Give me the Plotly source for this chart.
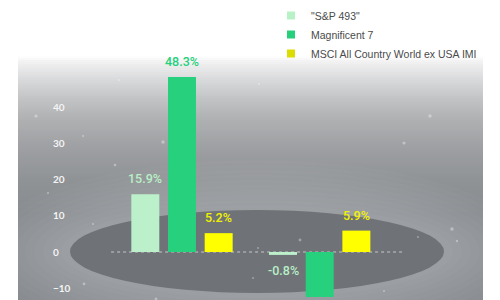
import plotly.graph_objects as go

# ---------------- data ----------------
categories = ["Period 1", "Period 2"]
series_names = ['"S&P 493"', "Magnificent 7", "MSCI All Country World ex USA IMI"]
sp493 = [15.9, -0.8]
mag7 = [48.3, -12.4]
msci = [5.2, 5.9]
y_ticks = [-10, 0, 10, 20, 30, 40]

series_values = [sp493, mag7, msci]
bar_colors = ["#bcf0ca", "#26d07c", "#ffff00"]
label_colors = ["#b8efc6", "#26d07c", "#f2f200"]
legend_colors = ["#b6f2c6", "#26cf7a", "#dcdc00"]

# ---------------- geometry ----------------
W, H = 500, 300
L, R, T, B = 48, 17, 60, 0
PW, PH = W - L - R, H - T - B
Y_RANGE = [-13.24, 52.97]
X_RANGE = [-0.9731, 2.186]
BARGAP, BARGROUPGAP = 0.201, 0.237


def px2x(px):
    return (px - L) / PW


def py2y(py):
    return (H - B - py) / PH


def hex2rgb(h):
    h = h.lstrip("#")
    return [int(h[i:i + 2], 16) for i in (0, 2, 4)]


def lerp_color(c1, c2, t):
    a, b = hex2rgb(c1), hex2rgb(c2)
    return "rgb(%d,%d,%d)" % tuple(round(a[i] + (b[i] - a[i]) * t) for i in range(3))


shapes = []
PANEL_L, PANEL_R = 18, 483

# vertical gradient of the panel
stops = [(56, "#ffffff"), (62, "#f1f1f2"), (80, "#d8d9da"), (100, "#c0c2c4"),
         (120, "#aeb0b2"), (150, "#9c9ea1"), (180, "#909396"), (215, "#878a8e"),
         (300, "#878a8e")]
for (y0, c0), (y1, c1) in zip(stops[:-1], stops[1:]):
    step = 2
    yy = y0
    while yy < y1:
        t = (yy + step / 2 - y0) / (y1 - y0)
        shapes.append(dict(type="rect", xref="paper", yref="paper",
                           x0=px2x(PANEL_L), x1=px2x(PANEL_R),
                           y0=py2y(min(yy + step, y1) + 0.5), y1=py2y(yy),
                           fillcolor=lerp_color(c0, c1, t), line_width=0, layer="below"))
        yy += step

# glow around the ellipse
EX0, EX1, EY0, EY1 = 70, 444, 210, 293
for k in range(10, 0, -1):
    dx, dy = 9 * k, 5 * k
    shapes.append(dict(type="circle", xref="paper", yref="paper",
                       x0=px2x(EX0 - dx), x1=px2x(EX1 + dx),
                       y0=py2y(EY1 + dy), y1=py2y(EY0 - dy),
                       fillcolor="rgba(255,255,255,0.022)", line_width=0, layer="below"))
# mask glow spill outside the panel
shapes.append(dict(type="rect", xref="paper", yref="paper", x0=px2x(0), x1=px2x(PANEL_L),
                   y0=py2y(300), y1=py2y(40), fillcolor="#ffffff", line_width=0, layer="below"))
shapes.append(dict(type="rect", xref="paper", yref="paper", x0=px2x(PANEL_R), x1=px2x(500),
                   y0=py2y(300), y1=py2y(40), fillcolor="#ffffff", line_width=0, layer="below"))

# dark ellipse
shapes.append(dict(type="circle", xref="paper", yref="paper",
                   x0=px2x(EX0), x1=px2x(EX1), y0=py2y(EY1), y1=py2y(EY0),
                   fillcolor="#6f7276", line_width=0, layer="below"))

# sparkle dots
dots = [(36, 116, 1.6), (83, 136, 1.0), (163, 142, 1.8), (115, 165, 1.3), (48, 193, 1.0),
        (93, 224, 1.0), (184, 224, 1.3), (84, 284, 1.4), (156, 299, 1.4), (430, 116, 1.7),
        (404, 143, 1.6), (452, 229, 1.8), (457, 241, 1.2), (418, 237, 1.0), (300, 240, 1.4),
        (258, 248, 1.0), (253, 278, 1.0), (384, 291, 1.0), (119, 80, 1.0), (259, 84, 1.0)]
for (dxp, dyp, r) in dots:
    shapes.append(dict(type="circle", xref="paper", yref="paper",
                       xsizemode="pixel", ysizemode="pixel",
                       xanchor=px2x(dxp), yanchor=py2y(dyp),
                       x0=-r, x1=r, y0=-r, y1=r,
                       fillcolor="rgba(255,255,255,0.35)", line_width=0, layer="below"))

# dotted zero line
shapes.append(dict(type="line", xref="x", yref="y", x0=-0.515, x1=1.61, y0=0, y1=0,
                   line=dict(color="rgba(255,255,255,0.6)", width=1, dash="dot"), layer="below"))

fig = go.Figure()
for name, vals, col in zip(series_names, series_values, bar_colors):
    fig.add_trace(go.Bar(x=categories, y=vals, name=name, marker_color=col,
                         marker_line_width=0, showlegend=False))
for name, col in zip(series_names, legend_colors):
    fig.add_trace(go.Scatter(x=[None], y=[None], mode="markers", name=name,
                             marker=dict(symbol="square", size=8, color=col),
                             showlegend=True))

# value labels
n = len(series_names)
slot = (1 - BARGAP) / n
annotations = []
for i, (vals, col) in enumerate(zip(series_values, label_colors)):
    for j, v in enumerate(vals):
        xpos = j + (i - (n - 1) / 2) * slot
        if v >= 0:
            ya, ys = "bottom", 6
        else:
            ya, ys = "top", -6
            if v < Y_RANGE[0] + 3:
                continue
        annotations.append(dict(x=xpos, y=v, xref="x", yref="y", text="%.1f%%" % v,
                                showarrow=False, yanchor=ya, yshift=ys,
                                font=dict(family="Roboto", size=12.5, color=col,
                                          weight=500)))

fig.update_layout(
    width=W, height=H,
    margin=dict(l=L, r=R, t=T, b=B, pad=0),
    paper_bgcolor="#ffffff", plot_bgcolor="rgba(0,0,0,0)",
    barmode="group", bargap=BARGAP, bargroupgap=BARGROUPGAP,
    shapes=shapes, annotations=annotations,
    showlegend=True,
    legend=dict(x=px2x(271), y=py2y(1), xanchor="left", yanchor="top",
                bgcolor="rgba(0,0,0,0)", itemsizing="trace", tracegroupgap=0,
                font=dict(family="Liberation Sans", size=10.5, color="#4a4a4a")),
    xaxis=dict(range=X_RANGE, visible=False, fixedrange=True),
    yaxis=dict(range=Y_RANGE, tickvals=y_ticks, ticklabelposition="inside",
               ticklabelstandoff=2,
               showgrid=False, zeroline=False, showline=False, ticks="",
               tickfont=dict(family="Lato", size=10, color="#f4f4f4", weight="bold"),
               fixedrange=True),
)

fig.write_html("out.html")
